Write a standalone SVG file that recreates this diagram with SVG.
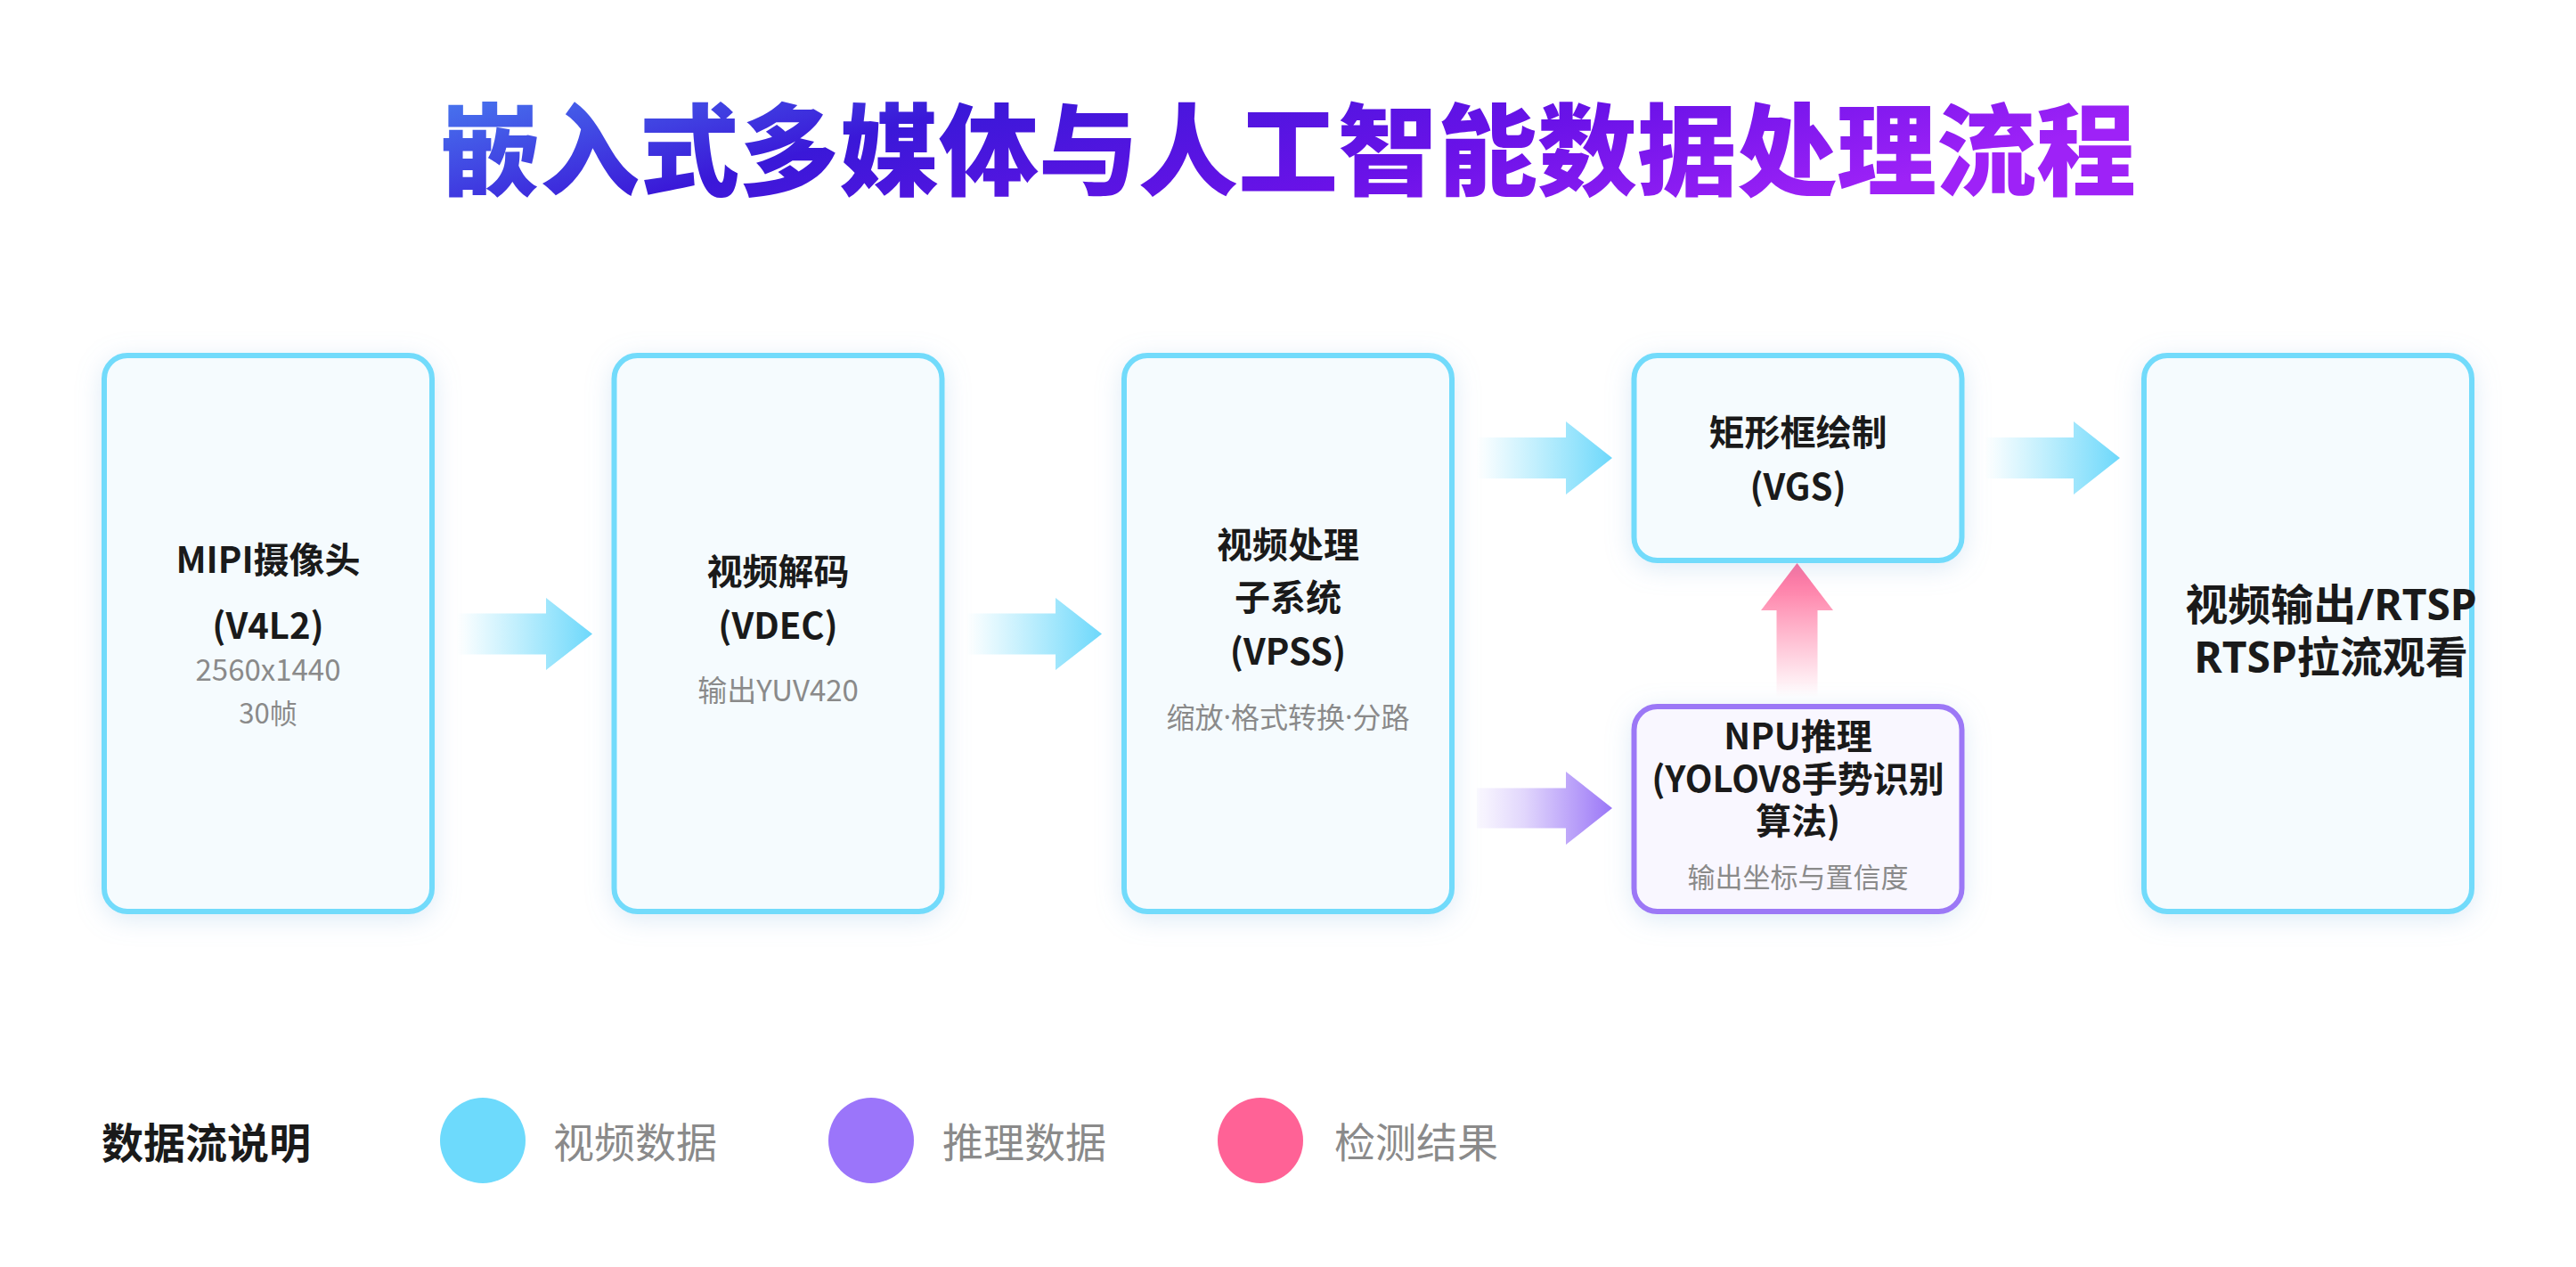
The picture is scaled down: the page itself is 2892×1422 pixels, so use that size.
<svg xmlns="http://www.w3.org/2000/svg" width="2892" height="1422" viewBox="0 0 2892 1422">
<defs>
<style>
.box{fill:#f5fbfe;stroke:#72dbfb;stroke-width:6}
.npu{fill:#f9f7ff;stroke:#9c78f6;stroke-width:6}
.t{font-family:"Noto Sans CJK SC","Noto Sans",sans-serif;font-weight:700;font-size:40px;fill:#1a1a1a;text-anchor:middle;dominant-baseline:central}
.s{font-family:"Noto Sans CJK SC","Noto Sans",sans-serif;font-weight:400;font-size:31px;fill:#8a8a8a;text-anchor:middle;dominant-baseline:central}
.big{font-family:"Noto Sans","Noto Sans CJK SC",sans-serif;font-weight:700;font-size:48px;fill:#1a1a1a;text-anchor:middle;dominant-baseline:central}
.lg{font-family:"Noto Sans CJK SC",sans-serif;font-size:46px;dominant-baseline:central}
.dot{font-family:"Noto Sans",sans-serif}
</style>
<linearGradient id="gTitle" x1="0" y1="0" x2="1" y2="0.3">
<stop offset="0" stop-color="#4a86f2"/>
<stop offset="0.35" stop-color="#3a18d8"/>
<stop offset="0.7" stop-color="#6a12e8"/>
<stop offset="1" stop-color="#9e22f7"/>
</linearGradient>
<linearGradient id="gCyan" x1="0" y1="0" x2="1" y2="0">
<stop offset="0" stop-color="#72dbfb" stop-opacity="0"/>
<stop offset="0.35" stop-color="#72dbfb" stop-opacity="0.35"/>
<stop offset="1" stop-color="#6dd8fb" stop-opacity="1"/>
</linearGradient>
<linearGradient id="gPurple" x1="0" y1="0" x2="1" y2="0">
<stop offset="0" stop-color="#9c78f6" stop-opacity="0.05"/>
<stop offset="0.35" stop-color="#9c78f6" stop-opacity="0.3"/>
<stop offset="1" stop-color="#9a76f7" stop-opacity="1"/>
</linearGradient>
<linearGradient id="gPink" x1="0" y1="1" x2="0" y2="0">
<stop offset="0" stop-color="#ff6a98" stop-opacity="0"/>
<stop offset="0.45" stop-color="#ff6a98" stop-opacity="0.45"/>
<stop offset="1" stop-color="#ff6496" stop-opacity="1"/>
</linearGradient>
<filter id="sh" x="-20%" y="-20%" width="140%" height="140%">
<feDropShadow dx="0" dy="6" stdDeviation="14" flood-color="#8ab8e0" flood-opacity="0.28"/>
</filter>
</defs>
<rect width="2892" height="1422" fill="#ffffff"/>

<text x="1446" y="162" font-family="Noto Sans CJK SC,sans-serif" font-weight="900" font-size="112" fill="url(#gTitle)" text-anchor="middle" dominant-baseline="central">嵌入式多媒体与人工智能数据处理流程</text>

<g id="connectors">
<path d="M513 688.5 H613 V671 L665 711.5 L613 752 V734.5 H513 Z" fill="url(#gCyan)"/>
<path d="M1085 688.5 H1185 V671 L1237 711.5 L1185 752 V734.5 H1085 Z" fill="url(#gCyan)"/>
<path d="M1658 491 H1758 V473 L1810 514 L1758 555 V537 H1658 Z" fill="url(#gCyan)"/>
<path d="M1658 884.5 H1758 V866 L1810 907 L1758 948 V929.5 H1658 Z" fill="url(#gPurple)"/>
<path d="M2228 491 H2328 V473 L2380 514 L2328 555 V537 H2228 Z" fill="url(#gCyan)"/>
<path d="M1994.5 782 V685 H1977 L2017.5 632 L2058 685 H2040.5 V782 Z" fill="url(#gPink)"/>
</g>

<g id="node-mipi">
<rect class="box" x="117" y="399" width="368" height="624" rx="26" filter="url(#sh)"/>
<text class="t" x="301" y="626">MIPI摄像头</text>
<text class="t" x="301" y="700">(V4L2)</text>
<text class="s" x="301" y="750" style="font-size:33px">2560x1440</text>
<text class="s" x="301" y="798">30帧</text>
</g>
<g id="node-vdec">
<rect class="box" x="689.5" y="399" width="368" height="624" rx="26" filter="url(#sh)"/>
<text class="t" x="873.5" y="639">视频解码</text>
<text class="t" x="873.5" y="700">(VDEC)</text>
<text class="s" x="873.5" y="773" style="font-size:33px">输出YUV420</text>
</g>
<g id="node-vpss">
<rect class="box" x="1262" y="399" width="368" height="624" rx="26" filter="url(#sh)"/>
<text class="t" x="1446" y="609">视频处理</text>
<text class="t" x="1446" y="668">子系统</text>
<text class="t" x="1446" y="729">(VPSS)</text>
<text class="s" x="1446" y="803" style="font-size:32px">缩放<tspan class="dot">·</tspan>格式转换<tspan class="dot">·</tspan>分路</text>
</g>
<g id="node-vgs">
<rect class="box" x="1834.5" y="399" width="368" height="230" rx="26" filter="url(#sh)"/>
<text class="t" x="2018.5" y="483">矩形框绘制</text>
<text class="t" x="2018.5" y="544">(VGS)</text>
</g>
<g id="node-npu">
<rect class="npu" x="1834.5" y="793" width="368" height="230" rx="26" filter="url(#sh)"/>
<text class="t" x="2018.5" y="824">NPU推理</text>
<text class="t" x="2018.5" y="872">(YOLOV8手势识别</text>
<text class="t" x="2018.5" y="919">算法)</text>
<text class="s" x="2018.5" y="982" style="font-size:31px">输出坐标与置信度</text>
</g>
<g id="node-output">
<rect class="box" x="2407" y="399" width="368" height="624" rx="26" filter="url(#sh)"/>
<text class="big" x="2617" y="677">视频输出/RTSP</text>
<text class="big" x="2617" y="736">RTSP拉流观看</text>
</g>

<g id="legend">
<text class="lg" x="114" y="1279" font-weight="700" fill="#1a1a1a" style="font-size:47px">数据流说明</text>
<circle cx="542" cy="1280" r="48" fill="#6ddafc"/>
<text class="lg" x="621" y="1279" fill="#8a8a8a">视频数据</text>
<circle cx="978" cy="1280" r="48" fill="#9b75fa"/>
<text class="lg" x="1058" y="1279" fill="#8a8a8a">推理数据</text>
<circle cx="1415" cy="1280" r="48" fill="#ff6296"/>
<text class="lg" x="1498" y="1279" fill="#8a8a8a">检测结果</text>
</g>
</svg>
